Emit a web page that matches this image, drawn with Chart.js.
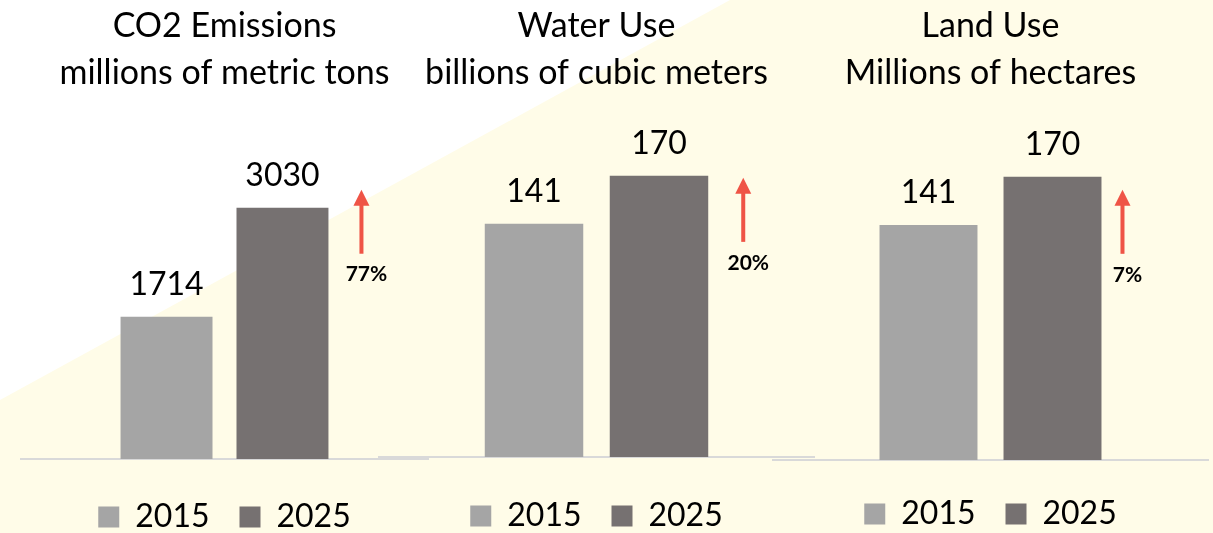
<!DOCTYPE html>
<html>
<head>
<meta charset="utf-8">
<script src="https://cdn.jsdelivr.net/npm/chart.js@4.4.0/dist/chart.umd.min.js"></script>
<style>
  html, body { margin: 0; padding: 0; }
  body { width: 1213px; height: 533px; overflow: hidden; position: relative; background: #fffce8; }
  #corner { position: absolute; left: 0; top: 0; width: 1213px; height: 533px; background: #fff;
            clip-path: polygon(0 0, 730px 0, 0 400px); }
  canvas { position: absolute; top: 0; }
</style>
</head>
<body>
<div id="corner"></div>
<canvas id="c0"></canvas>
<canvas id="c1"></canvas>
<canvas id="c2"></canvas>
<script>
// chart data
const titles = [
  ["CO2 Emissions", "millions of metric tons"],
  ["Water Use", "billions of cubic meters"],
  ["Land Use", "Millions of hectares"]
];
const years = ["2015", "2025"];
const values2015 = [1714, 141, 141];
const values2025 = [3030, 170, 170];
const changes = ["77%", "20%", "7%"];

// look
const barColors = ["#a5a5a5", "#767171"];
const arrowColor = "#ef5446";
const FONT = "Lato";

// panel placement (canvas box, axis size, bar sizing, arrow offset from 2025 bar)
const panels = [
  { left: 20,  width: 409, height: 543, axis: 12, yMax: 4136,  cat: 0.567,  bar: 0.793, dx: 33, tip: -18 },
  { left: 378, width: 437, height: 542, axis: 13, yMax: 206.2, cat: 0.572,  bar: 0.788, dx: 35, tip: 2 },
  { left: 772, width: 437, height: 540, axis: 8,  yMax: 206.5, cat: 0.5675, bar: 0.79,  dx: 21, tip: 13 }
];

// value labels over bars + red arrow with % change
const annotate = {
  id: "annotate",
  afterDatasetsDraw(chart, args, opts) {
    const ctx = chart.ctx;
    ctx.save();
    ctx.fillStyle = "#000";
    ctx.textAlign = "center";
    ctx.textBaseline = "middle";
    ctx.font = "32px " + FONT;
    chart.data.datasets.forEach((ds, i) => {
      const el = chart.getDatasetMeta(i).data[0];
      ctx.fillText(String(ds.data[0]), el.x, el.y - 32);
    });

    const el = chart.getDatasetMeta(1).data[0];
    const x = el.x + el.width / 2 + opts.dx;
    const top = el.y + opts.tip;
    const len = 64;
    ctx.fillStyle = arrowColor;
    ctx.fillRect(x - 2, top + 14, 4, len - 14);
    ctx.beginPath();
    ctx.moveTo(x, top);
    ctx.lineTo(x + 8, top + 16);
    ctx.lineTo(x - 8, top + 16);
    ctx.closePath();
    ctx.fill();

    ctx.fillStyle = "#000";
    ctx.font = "bold 21px " + FONT;
    ctx.fillText(opts.label, x + 5, top + len + 21);
    ctx.restore();
  }
};

panels.forEach((p, i) => {
  const canvas = document.getElementById("c" + i);
  canvas.width = p.width;
  canvas.height = p.height;
  canvas.style.left = p.left + "px";

  new Chart(canvas, {
    type: "bar",
    data: {
      labels: [""],
      datasets: years.map((y, j) => ({
        label: y,
        data: [j === 0 ? values2015[i] : values2025[i]],
        backgroundColor: barColors[j],
        categoryPercentage: p.cat,
        barPercentage: p.bar
      }))
    },
    options: {
      responsive: false,
      animation: false,
      layout: { padding: 0 },
      scales: {
        x: {
          grid: { display: false },
          ticks: { display: false },
          border: { color: "#d9d9d9", width: 2 },
          afterFit(scale) { scale.height = p.axis; }
        },
        y: { display: false, min: 0, max: p.yMax }
      },
      plugins: {
        title: {
          display: true,
          text: titles[i],
          color: "#000",
          font: { family: FONT, size: 34, weight: "normal", lineHeight: 46.5 / 34 },
          padding: { top: 3, bottom: 20 }
        },
        legend: {
          position: "bottom",
          labels: {
            boxWidth: 21,
            boxHeight: 21,
            padding: 30,
            color: "#000",
            font: { family: FONT, size: 32 }
          }
        },
        tooltip: { enabled: false },
        annotate: { dx: p.dx, tip: p.tip, label: changes[i] }
      }
    },
    plugins: [annotate]
  });
});
</script>
</body>
</html>
